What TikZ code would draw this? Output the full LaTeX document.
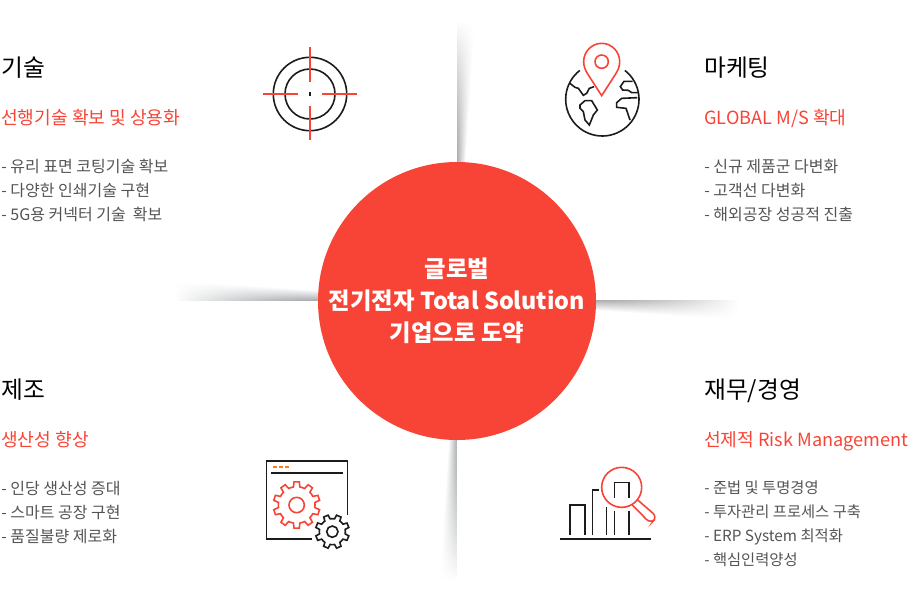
\documentclass[tikz,border=0pt]{standalone}
\usepackage{fontspec}
\setmainfont{Noto Sans CJK KR}
\newlength{\du}
\setlength{\du}{0.75pt}
\newlength{\zu}
\setlength{\zu}{0.25pt}
\definecolor{hubcolor}{rgb}{0.969, 0.267, 0.212}
\definecolor{inkcolor}{rgb}{0.110, 0.110, 0.110}
\definecolor{bodycolor}{rgb}{0.330, 0.330, 0.330}
\definecolor{dashcolor}{rgb}{1.000, 0.490, 0.100}
\definecolor{shadecolor}{rgb}{0.670, 0.680, 0.690}
\tikzset{
  headline/.style={anchor=base west, inner sep=0pt, text=black, font=\fontsize{17.8}{20}\selectfont},
  subline/.style={anchor=base west, inner sep=0pt, text=hubcolor, font=\fontsize{13.6}{16}\selectfont},
  bodytext/.style={anchor=north west, inner sep=0pt, align=left, text=bodycolor, font=\fontsize{12}{18}\selectfont},
  smallbody/.style={bodytext, font=\fontsize{11.5}{18}\selectfont},
  hubtext/.style={circle, fill=hubcolor, inner sep=0pt, minimum size=278\du, align=center, text=white, font=\fontsize{17.5}{24}\selectfont\bfseries},
  inkline/.style={draw=inkcolor, line width=1.6\du, line join=miter},
  redline/.style={draw=hubcolor, line width=1.6\du, line join=miter},
}
\newcommand{\gearpath}[5]{% style, centre, inner, outer, teeth
  \pgfmathsetmacro{\gearstep}{360/#5}
  \draw[#1,shift={(#2)}] (0:#3)
    \foreach \t in {1,...,#5} {
      -- ({(\t-1)*\gearstep+0.22*\gearstep}:#3)
      -- ({(\t-1)*\gearstep+0.32*\gearstep}:#4)
      -- ({(\t-1)*\gearstep+0.68*\gearstep}:#4)
      -- ({(\t-1)*\gearstep+0.78*\gearstep}:#3)
      -- ({\t*\gearstep}:#3)
    } -- cycle;
}

\begin{document}
\begin{tikzpicture}
\pgftransformxscale{1.000000}
\pgftransformyscale{-1.000000}
\useasboundingbox (0\du,0\du) rectangle (909\du,600\du);
% shadows
\foreach \p [evaluate=\p as \w using {8+10*\p/48}, evaluate=\p as \c using {100*(1-(\p/48)^1.5)}, evaluate=\p as \a using {3*\p}] in {0,...,48} {
  \shade[left color=shadecolor!\c!white, right color=white] (457\du,165\du-\a\du) rectangle (457\du+\w\du,161.5\du-\a\du);
  \shade[top color=shadecolor!\c!white, bottom color=white] (594\du+\a\du,300\du) rectangle (597.5\du+\a\du,300\du+\w\du+2\du);
  \shade[top color=white, bottom color=shadecolor!\c!white] (320\du-\a\du,300\du-\w\du-2\du) rectangle (316.5\du-\a\du,300\du);
  \shade[left color=white, right color=shadecolor!\c!white] (456.7\du-\w\du,436\du+\a\du) rectangle (456.7\du,439.5\du+\a\du);
}
% hub
\node[hubtext] (hub) at (457\du,301\du) {글로벌\\전기전자 Total Solution\\기업으로 도약};
% texts
\node[headline] (techhead) at (1\du,76.5\du) {기술};
\node[subline] (techsub) at (1\du,124\du) {선행기술 확보 및 상용화};
\node[bodytext] (techbody) at (1\du,159\du) {- 유리 표면 코팅기술 확보\\- 다양한 인쇄기술 구현\\- 5G용 커넥터 기술 \ 확보};
\node[headline] (markhead) at (704\du,76.5\du) {마케팅};
\node[subline] (marksub) at (704\du,124\du) {GLOBAL M/S 확대};
\node[bodytext] (markbody) at (704\du,159\du) {- 신규 제품군 다변화\\- 고객선 다변화\\- 해외공장 성공적 진출};
\node[headline] (makehead) at (1\du,398.5\du) {제조};
\node[subline] (makesub) at (1\du,446\du) {생산성 향상};
\node[bodytext] (makebody) at (1\du,481\du) {- 인당 생산성 증대\\- 스마트 공장 구현\\- 품질불량 제로화};
\node[headline] (finhead) at (704\du,398.5\du) {재무/경영};
\node[subline] (finsub) at (704\du,446\du) {선제적 Risk Management};
\node[smallbody] (finbody) at (704\du,481\du) {- 준법 및 투명경영\\- 투자관리 프로세스 구축\\- ERP System 최적화\\- 핵심인력양성};
% target icon
\draw[inkline] (310\du,94\du) circle (36.7\du);
\draw[inkline] (310\du,94\du) circle (25\du);
\fill[inkcolor] (309.3\du,92\du) rectangle (310.7\du,96\du);
\draw[redline] (310\du,47\du)--(310\du,82\du);
\draw[redline] (310\du,106\du)--(310\du,140\du);
\draw[redline] (263\du,94\du)--(298\du,94\du);
\draw[redline] (322\du,94\du)--(357\du,94\du);
% globe icon
\begin{scope}[shift={(550\du,30\du)}]
\draw[inkline] (157\zu,208\zu) ++(308:110\zu) arc[start angle=308, end angle=592, radius=110\zu];
\draw[inkline] (60\zu,160\zu)--(75\zu,172\zu)--(85\zu,175\zu)--(100\zu,196\zu)--(110\zu,190\zu)--(118\zu,175\zu)--(132\zu,170\zu);
\draw[inkline] (90\zu,225\zu)--(105\zu,212\zu)--(125\zu,212\zu)--(142\zu,240\zu)--(130\zu,255\zu)--(118\zu,285\zu)--(105\zu,270\zu)--(100\zu,245\zu)--(90\zu,235\zu)--cycle;
\draw[inkline] (248\zu,154\zu)--(222\zu,154\zu)--(211\zu,170\zu)--(218\zu,180\zu)--(235\zu,181\zu)--(245\zu,188\zu)--(265\zu,188\zu);
\draw[inkline] (262\zu,203\zu)--(215\zu,205\zu)--(200\zu,218\zu)--(200\zu,232\zu)--(228\zu,235\zu)--(240\zu,270\zu);
\draw[redline] (155\zu,197\zu)--(115\zu,135\zu) .. controls (105\zu,120\zu) and (101\zu,108\zu) .. (101\zu,95\zu) .. controls (101\zu,65\zu) and (125\zu,40\zu) .. (155\zu,40\zu) .. controls (185\zu,40\zu) and (209\zu,65\zu) .. (209\zu,95\zu) .. controls (209\zu,108\zu) and (205\zu,120\zu) .. (195\zu,135\zu)--cycle;
\draw[redline] (155\zu,95\zu) circle (20\zu);
\end{scope}
% gear icon
\begin{scope}[shift={(255\du,450\du)}]
\draw[inkline] (277\zu,195\zu)--(277\zu,33\zu)--(35\zu,33\zu)--(35\zu,267\zu)--(170\zu,267\zu);
\draw[inkline, line width=2\du] (48\zu,68\zu)--(265\zu,68\zu);
\draw[draw=dashcolor, line width=2\du, dash pattern=on 4.4\du off 1.7\du] (53\zu,50\zu)--(103\zu,50\zu);
\gearpath{redline}{125\zu,165\zu}{55\zu}{70\zu}{10}
\draw[redline] (125\zu,165\zu) circle (23\zu);
\gearpath{inkline}{232\zu,245\zu}{39\zu}{51\zu}{8}
\draw[inkline] (232\zu,245\zu) circle (17\zu);
\end{scope}
% chart icon
\begin{scope}[shift={(550\du,455\du)}]
\draw[inkline, line width=2\du] (30\zu,253\zu)--(303\zu,253\zu);
\draw[inkline] (60\zu,241\zu)--(60\zu,150\zu)--(105\zu,150\zu)--(105\zu,241\zu);
\draw[inkline] (127\zu,241\zu)--(127\zu,105\zu)--(146\zu,105\zu);
\draw[inkline] (170\zu,241\zu)--(170\zu,155\zu);
\draw[inkline] (193\zu,241\zu)--(193\zu,168\zu);
\draw[inkline] (237\zu,241\zu)--(237\zu,168\zu);
\draw[inkline] (193\zu,130\zu)--(193\zu,82\zu)--(237\zu,82\zu)--(237\zu,130\zu);
\draw[redline] (215\zu,97\zu) circle (60\zu);
\draw[redline, rounded corners=6\du] (262\zu,134\zu)--(322\zu,186\zu)--(302\zu,206\zu)--(247\zu,150\zu);
\end{scope}
\end{tikzpicture}
\end{document}
